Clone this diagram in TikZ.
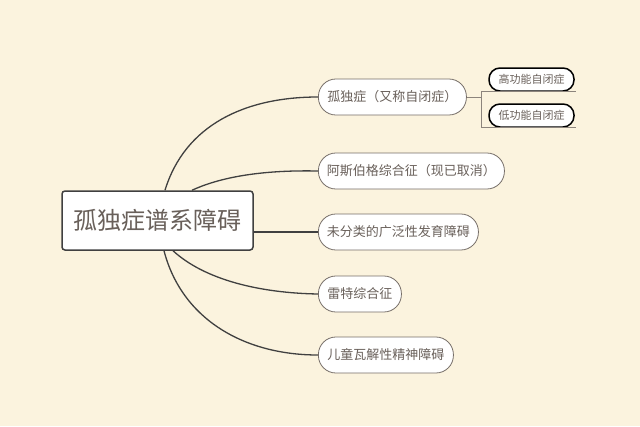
\documentclass[tikz,border=0pt]{standalone}
\usepackage{fontspec}
\setmainfont{Noto Sans CJK SC}
\begin{document}
\begin{tikzpicture}[x=1pt,y=-1pt,
  conn/.style={draw=black!75, line width=1.3pt},
  pill/.style={draw=pillb, line width=0.8pt, fill=white, rounded corners=17.5pt,
    minimum height=36pt, inner sep=0pt, anchor=west, text=txt, font=\fontsize{13}{13}\selectfont},
  subpill/.style={draw=black, line width=1.5pt, fill=white, rounded corners=11pt,
    minimum height=23pt, minimum width=85pt, inner sep=0pt, text=txt, font=\fontsize{11}{11}\selectfont},
  bracket/.style={draw=brk, line width=1pt}]
\definecolor{bg}{RGB}{251,243,222}
\definecolor{txt}{RGB}{105,96,90}
\definecolor{pillb}{RGB}{118,110,104}
\definecolor{brk}{RGB}{140,132,124}
\fill[bg] (0,0) rectangle (640,426);
\useasboundingbox (0,0) rectangle (640,426);

\node[draw=black!75, line width=1.5pt, fill=white, rounded corners=3pt, minimum width=191pt,
  minimum height=59pt, inner sep=0pt, text=txt, font=\fontsize{24}{24}\selectfont] (c) at (157.5,220.5) {孤独症谱系障碍};

\node[pill, minimum width=148pt] (n1) at (318,97) {孤独症（又称自闭症）};
\node[pill, minimum width=186pt] (n2) at (318,171) {阿斯伯格综合征（现已取消）};
\node[pill, minimum width=160pt] (n3) at (318,232) {未分类的广泛性发育障碍};
\node[pill, minimum width=83pt] (n4) at (318,294) {雷特综合征};
\node[pill, minimum width=135pt] (n5) at (318,355) {儿童瓦解性精神障碍};

\node[subpill] (s1) at (531.5,79.5) {高功能自闭症};
\node[subpill] (s2) at (531.5,115.5) {低功能自闭症};

\draw[conn] ([xshift=7.5pt]c.north) .. controls (185,125) and (245,97) .. (n1.west);
\draw[conn] ([xshift=34.5pt]c.north) .. controls (225,175) and (270,170) .. (n2.west);
\draw[conn] (c.east |- n3.west) -- (n3.west);
\draw[conn] ([xshift=15.5pt]c.south) .. controls (205,280) and (260,293) .. (n4.west);
\draw[conn] ([xshift=6.5pt]c.south) .. controls (182,320) and (245,355) .. (n5.west);

\coordinate (b) at (481,97);
\draw[bracket] (n1.east) -- (b);
\draw[bracket] ([xshift=1pt]s1.south east) -- (s1.south east -| b) -- (s2.south east -| b) -- ([xshift=1pt]s2.south east);
\end{tikzpicture}
\end{document}
